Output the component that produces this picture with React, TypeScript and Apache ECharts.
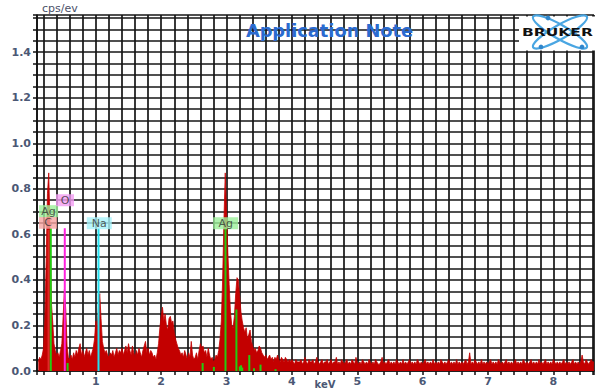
import React, { useEffect, useRef } from "react";
import * as echarts from "echarts";

// Spectrum: counts per channel (cps/eV), channels start at 0.12 keV, 0.02 keV apart
const energyStart = 0.12;
const energyStep = 0.02;
const countsLowEnergy = [
  // 0.12 - 0.60
  0.04, 0.06, 0.05, 0.07, 0.10, 0.22, 0.48, 0.78, 0.87, 0.62, 0.30, 0.22, 0.12, 0.09, 0.07, 0.08, 0.06, 0.09, 0.12, 0.24, 0.36, 0.27, 0.11, 0.06, 0.05,
  // 0.62 - 1.10
  0.07, 0.05, 0.08, 0.06, 0.09, 0.07, 0.10, 0.12, 0.07, 0.09, 0.06, 0.08, 0.10, 0.07, 0.09, 0.06, 0.08, 0.10, 0.14, 0.22, 0.19, 0.28, 0.34, 0.23, 0.13,
  // 1.12 - 1.60
  0.10, 0.08, 0.09, 0.07, 0.06, 0.08, 0.07, 0.09, 0.06, 0.08, 0.10, 0.07, 0.09, 0.08, 0.10, 0.07, 0.09, 0.11, 0.08, 0.12, 0.09, 0.07, 0.11, 0.08, 0.06,
  // 1.62 - 2.10
  0.09, 0.07, 0.10, 0.08, 0.06, 0.09, 0.11, 0.13, 0.08, 0.10, 0.07, 0.09, 0.08, 0.06, 0.07, 0.05, 0.08, 0.12, 0.19, 0.24, 0.28, 0.22, 0.25, 0.20, 0.18,
  // 2.12 - 2.60
  0.23, 0.24, 0.21, 0.22, 0.17, 0.14, 0.12, 0.10, 0.09, 0.07, 0.08, 0.06, 0.09, 0.07, 0.05, 0.08, 0.06, 0.13, 0.07, 0.05, 0.06, 0.08, 0.05, 0.09, 0.12,
  // 2.62 - 3.10
  0.10, 0.11, 0.08, 0.09, 0.06, 0.10, 0.07, 0.05, 0.06, 0.04, 0.05, 0.07, 0.06, 0.09, 0.14, 0.22, 0.40, 0.66, 0.87, 0.70, 0.52, 0.38, 0.26, 0.20, 0.19,
  // 3.12 - 3.60
  0.24, 0.34, 0.41, 0.40, 0.33, 0.26, 0.22, 0.19, 0.17, 0.19, 0.14, 0.16, 0.18, 0.13, 0.11, 0.09, 0.10, 0.08, 0.09, 0.11, 0.10, 0.08, 0.07, 0.06, 0.07,
  // 3.62 - 4.10
  0.05, 0.06, 0.07, 0.05, 0.06, 0.04, 0.06, 0.05, 0.07, 0.05, 0.04, 0.06, 0.05, 0.04, 0.06, 0.05, 0.04, 0.05, 0.04, 0.05, 0.04, 0.03, 0.05, 0.04, 0.04,
];
const countsHighEnergy = [
  // 4.12 - 4.60
  0.04, 0.05, 0.03, 0.04, 0.06, 0.04, 0.03, 0.05, 0.04, 0.04, 0.05, 0.03, 0.04, 0.06, 0.04, 0.03, 0.04, 0.05, 0.03, 0.04, 0.04, 0.05, 0.03, 0.04, 0.05,
  // 4.62 - 5.10
  0.03, 0.04, 0.04, 0.06, 0.03, 0.04, 0.03, 0.05, 0.04, 0.03, 0.04, 0.05, 0.03, 0.04, 0.03, 0.05, 0.04, 0.03, 0.06, 0.04, 0.03, 0.04, 0.03, 0.05, 0.04,
  // 5.12 - 5.60
  0.03, 0.04, 0.03, 0.05, 0.04, 0.03, 0.04, 0.03, 0.05, 0.04, 0.03, 0.03, 0.04, 0.06, 0.03, 0.04, 0.03, 0.04, 0.05, 0.03, 0.04, 0.03, 0.04, 0.03, 0.05,
  // 5.62 - 6.10
  0.04, 0.03, 0.04, 0.03, 0.05, 0.03, 0.04, 0.03, 0.04, 0.05, 0.03, 0.04, 0.03, 0.04, 0.03, 0.05, 0.04, 0.03, 0.04, 0.03, 0.04, 0.05, 0.03, 0.04, 0.03,
  // 6.12 - 6.60
  0.04, 0.03, 0.05, 0.03, 0.04, 0.03, 0.04, 0.03, 0.05, 0.04, 0.03, 0.04, 0.03, 0.04, 0.05, 0.03, 0.04, 0.03, 0.04, 0.03, 0.05, 0.03, 0.04, 0.03, 0.04,
  // 6.62 - 7.10
  0.03, 0.04, 0.05, 0.03, 0.04, 0.08, 0.03, 0.04, 0.03, 0.05, 0.04, 0.03, 0.04, 0.03, 0.05, 0.03, 0.04, 0.03, 0.04, 0.03, 0.04, 0.05, 0.03, 0.04, 0.03,
  // 7.12 - 7.60
  0.04, 0.03, 0.05, 0.04, 0.03, 0.04, 0.03, 0.04, 0.05, 0.03, 0.04, 0.03, 0.04, 0.03, 0.04, 0.05, 0.03, 0.04, 0.03, 0.04, 0.03, 0.05, 0.04, 0.03, 0.04,
  // 7.62 - 8.10
  0.03, 0.04, 0.05, 0.03, 0.04, 0.03, 0.04, 0.03, 0.05, 0.03, 0.04, 0.03, 0.04, 0.05, 0.03, 0.04, 0.03, 0.04, 0.03, 0.05, 0.04, 0.03, 0.04, 0.03, 0.04,
  // 8.12 - 8.62
  0.03, 0.04, 0.05, 0.03, 0.04, 0.03, 0.04, 0.03, 0.04, 0.05, 0.03, 0.04, 0.03, 0.04, 0.03, 0.04, 0.07, 0.04, 0.03, 0.05, 0.04, 0.03, 0.04, 0.05, 0.04,
  0.04,
];

// Element identification lines (keV, top of line in cps/eV)
const markerElements = ["C", "Ag", "O", "Na", "Ag"];
const markerEnergies = [0.277, 0.311, 0.525, 1.041, 2.984];
const markerTops = [0.62, 0.627, 0.627, 0.627, 0.627];

// Label anchors (keV, cps/eV)
const labelNames = ["C", "Ag", "O", "Na", "Ag"];
const labelEnergies = [0.269, 0.277, 0.528, 1.053, 2.986];
const labelLevels = [0.651, 0.702, 0.75, 0.649, 0.649];

// Minor Ag family lines
const agMinorEnergies = [0.568, 2.634, 2.806, 3.151, 3.203, 3.222, 3.24, 3.348, 3.42, 3.52, 3.75];
const agMinorHeights = [0.035, 0.035, 0.018, 0.27, 0.02, 0.025, 0.015, 0.07, 0.012, 0.028, 0.008];

// Axis ranges
const xMin = 0.1;
const xMax = 8.622;
const yMin = 0;
const yMax = 1.5635;
const yStep = 0.05;

const lineColors: Record<string, string> = {
  C: "#e02828",
  Ag: "#22cc11",
  O: "#ff22dd",
  Na: "#22e0f0",
};
const labelBg: Record<string, string> = {
  C: "#f6a4a0",
  Ag: "#9cf09a",
  O: "#f29cf2",
  Na: "#a8f2fa",
};
const labelBoxWidths = [14, 15, 14, 21, 21];

const axisFont = {
  fontFamily: "DejaVu Sans",
  fontWeight: "bold" as const,
  fontSize: 11,
  color: "#4b5875",
};

export default function App() {
  const ref = useRef<HTMLDivElement>(null);

  useEffect(() => {
    if (!ref.current) return;
    const chart = echarts.init(ref.current, null, { renderer: "svg" });

    const counts = countsLowEnergy.concat(countsHighEnergy);
    const spectrum = counts.map((v, i) => [+(energyStart + i * energyStep).toFixed(2), v]);

    const markerData = markerEnergies.map((e, i) => [e, markerTops[i], i]);
    const minorData = agMinorEnergies.map((e, i) => [e, agMinorHeights[i], -1]);

    const labelData = labelNames.map((n, i) => ({
      name: n,
      value: [labelEnergies[i], labelLevels[i]],
      label: { backgroundColor: labelBg[n], width: labelBoxWidths[i] },
    }));

    const gridLine = { color: "#161616", width: 1.7 };

    const option: any = {
      animation: false,
      grid: { left: 37, right: 0, top: 15, bottom: 20, containLabel: false },
      xAxis: {
        type: "value",
        min: xMin,
        max: xMax,
        splitNumber: 43,
        minInterval: 0.2,
        maxInterval: 0.2,
        axisLine: { show: true, onZero: false, lineStyle: { color: "#111", width: 1.5 } },
        axisTick: { show: true, length: 4, lineStyle: { color: "#111", width: 1.5 } },
        axisLabel: {
          ...axisFont,
          margin: 5,
          showMinLabel: true,
          showMaxLabel: true,
          formatter: (v: number) =>
            Math.abs(v - Math.round(v)) < 1e-6 ? String(Math.round(v)) : "",
        },
        splitLine: { show: true, lineStyle: gridLine },
      },
      yAxis: {
        type: "value",
        min: yMin,
        max: yMax,
        interval: yStep,
        axisLine: { show: true, lineStyle: { color: "#111", width: 1.5 } },
        axisTick: { show: true, length: 4, lineStyle: { color: "#111", width: 1.5 } },
        axisLabel: {
          ...axisFont,
          margin: 6,
          formatter: (v: number) =>
            Math.abs(v * 5 - Math.round(v * 5)) < 1e-6 && v < 1.5 ? v.toFixed(1) : "",
        },
        splitLine: { show: true, lineStyle: gridLine },
      },
      series: [
        {
          type: "line",
          data: spectrum,
          symbol: "none",
          z: 2,
          lineStyle: { color: "#c30000", width: 0.8 },
          areaStyle: { color: "#c30000", opacity: 1 },
        },
        {
          type: "custom",
          z: 3,
          data: markerData.concat(minorData),
          renderItem: (params: any, api: any) => {
            const e = api.value(0);
            const h = api.value(1);
            const idx = api.value(2);
            const p0 = api.coord([e, 0]);
            const p1 = api.coord([e, h]);
            const color = idx >= 0 ? lineColors[markerElements[idx]] : lineColors.Ag;
            return {
              type: "line",
              shape: { x1: p0[0], y1: p0[1], x2: p1[0], y2: p1[1] },
              style: { stroke: color, lineWidth: 2 },
            };
          },
        },
        {
          type: "scatter",
          z: 4,
          symbolSize: 0,
          data: labelData,
          label: {
            show: true,
            position: "inside",
            formatter: "{b}",
            color: "#333",
            fontFamily: "DejaVu Sans",
            fontSize: 11,
            lineHeight: 10,
            padding: [1, 2],
            align: "center",
          },
        },
      ],
      graphic: [
        {
          type: "text",
          left: 42,
          top: 3,
          z: 10,
          style: { text: "cps/ev", font: "11px 'DejaVu Sans'", fill: "#4a5068" },
        },
        {
          type: "text",
          x: 325,
          y: 379,
          z: 10,
          style: {
            text: "keV",
            font: "bold 10px 'DejaVu Sans'",
            fill: "#4b5875",
            align: "center",
            verticalAlign: "top",
          },
        },
        {
          type: "text",
          x: 329.5,
          y: 30.5,
          z: 10,
          style: {
            text: "Application Note",
            font: "bold 17.8px 'DejaVu Sans'",
            fill: "#2b6bd0",
            align: "center",
            verticalAlign: "middle",
          },
        },
        {
          type: "rect",
          z: 10,
          shape: { x: 519, y: 16.5, width: 80, height: 34 },
          style: { fill: "#ffffff" },
        },
        {
          type: "ellipse",
          z: 11,
          x: 560,
          y: 32,
          rotation: 0.52,
          shape: { cx: 0, cy: 0, rx: 31, ry: 7 },
          style: { fill: "transparent", stroke: "#4aa6e2", lineWidth: 2.2 },
        },
        {
          type: "ellipse",
          z: 11,
          x: 560,
          y: 32,
          rotation: -0.52,
          shape: { cx: 0, cy: 0, rx: 31, ry: 7 },
          style: { fill: "transparent", stroke: "#4aa6e2", lineWidth: 2.2 },
        },
        { type: "circle", z: 12, shape: { cx: 548, cy: 18, r: 2.4 }, style: { fill: "#2f86cc" } },
        { type: "circle", z: 12, shape: { cx: 541, cy: 47, r: 2.4 }, style: { fill: "#2f86cc" } },
        { type: "circle", z: 12, shape: { cx: 582, cy: 47, r: 2.4 }, style: { fill: "#2f86cc" } },
        {
          type: "text",
          z: 13,
          x: 522,
          y: 32.5,
          scaleX: 1.55,
          style: {
            text: "BRUKER",
            font: "bold 10px 'DejaVu Sans'",
            fill: "#111",
            verticalAlign: "middle",
          },
        },
      ],
    };

    chart.setOption(option);
    return () => chart.dispose();
  }, []);

  return (
    <div
      ref={ref}
      style={{ position: "fixed", left: 0, top: 0, width: 597, height: 391, background: "#fff" }}
    />
  );
}
